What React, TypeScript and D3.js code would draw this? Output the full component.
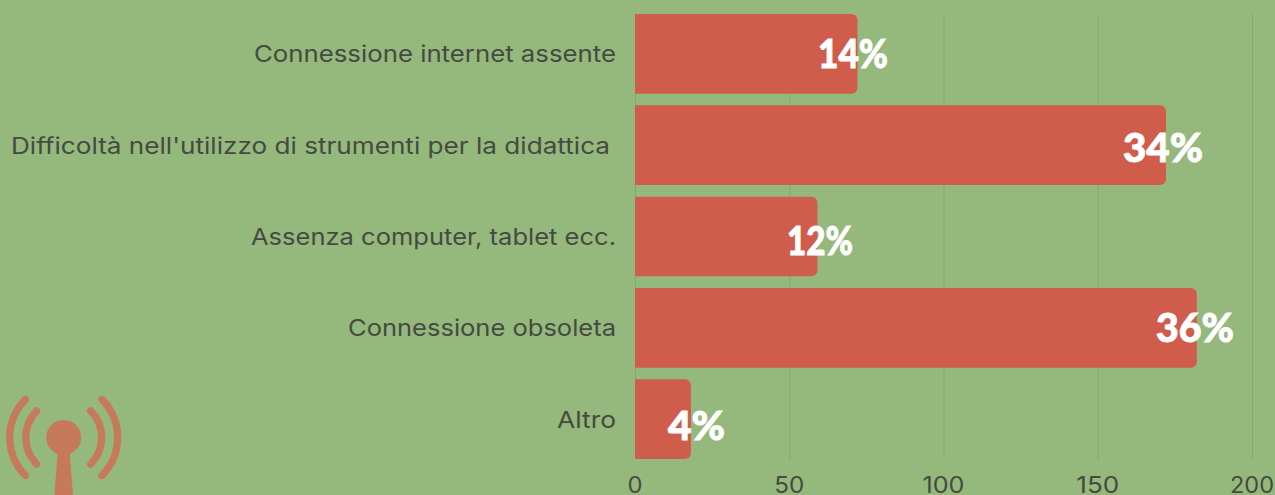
import React from "react";
import * as d3 from "d3";

const categories = [
  "Connessione internet assente",
  "Difficoltà nell'utilizzo di strumenti per la didattica",
  "Assenza computer, tablet ecc.",
  "Connessione obsoleta",
  "Altro",
];
const values = [72, 172, 59, 182, 18];
const percentLabels = ["14%", "34%", "12%", "36%", "4%"];
const ticks = [0, 50, 100, 150, 200];
const tickWidths = [15, 30, 42, 43, 44];
const labelRightEdge = [616, 610, 616, 616, 616];
const labelWidths = [362, 599, 365, 268, 59];
const pctCenters = [853, 1163, 820, 1195, 696.5];
const pctWidths = [70, 80, 66, 78, 57];
const pctBaselines = [68, 161.5, 255, 341.5, 440];

const BG = "#95B87C";
const BAR = "#D05C4C";
const ICON = "#C67A5B";
const TEXT = "#454A42";
const GRID = "#84A86F";

const x = d3.scaleLinear().domain([0, 200]).range([635, 1252]);
const y = d3.scaleBand<number>().domain(d3.range(categories.length)).range([14, 459]).paddingInner(0.127).paddingOuter(0);

function barPath(v: number, i: number) {
  const x0 = x(0), x1 = x(v) + 0.4, y0 = y(i)!, h = y.bandwidth(), r = 6;
  const p = d3.path();
  p.moveTo(x0, y0);
  p.lineTo(x1 - r, y0);
  p.arcTo(x1, y0, x1, y0 + r, r);
  p.lineTo(x1, y0 + h - r);
  p.arcTo(x1, y0 + h, x1 - r, y0 + h, r);
  p.lineTo(x0, y0 + h);
  p.closePath();
  return p.toString();
}

const arcGen = d3.arc<any>().cornerRadius(3.6);
const q = Math.PI / 4;
const iconArcs = [
  { r: 38, a: -3 * q - 0.09, b: -q + 0.09 },
  { r: 54, a: -3 * q - 0.065, b: -q + 0.065 },
  { r: 38, a: q - 0.09, b: 3 * q + 0.09 },
  { r: 54, a: q - 0.065, b: 3 * q + 0.065 },
];

export default function App() {
  return (
    <svg
      width={1275}
      height={495}
      style={{ position: "fixed", left: 0, top: 0, display: "block", background: BG }}
    >
      <rect x={0} y={0} width={1275} height={495} fill={BG} />
      {ticks.map((t) => (
        <line key={t} x1={x(t) + 0.5} x2={x(t) + 0.5} y1={14} y2={459} stroke={GRID} strokeWidth={1} />
      ))}
      {values.map((v, i) => (
        <path key={i} d={barPath(v, i)} fill={BAR} />
      ))}
      {categories.map((c, i) => (
        <text
          key={c}
          x={labelRightEdge[i] - labelWidths[i]}
          y={y(i)! + y.bandwidth() / 2 + 8.5}
          textLength={labelWidths[i]}
          lengthAdjust="spacingAndGlyphs"
          fontFamily="Inter, 'Open Sans', sans-serif"
          fontSize={22.5}
          fill={TEXT}
        >
          {c}
        </text>
      ))}
      {ticks.map((t, i) => (
        <text
          key={t}
          x={x(t) - tickWidths[i] / 2}
          y={493}
          textLength={tickWidths[i]}
          lengthAdjust="spacingAndGlyphs"
          fontFamily="Inter, 'Open Sans', sans-serif"
          fontSize={23}
          fill={TEXT}
        >
          {t}
        </text>
      ))}
      {values.map((v, i) => (
        <text
          key={i}
          x={pctCenters[i] - pctWidths[i] / 2}
          y={pctBaselines[i]}
          textLength={pctWidths[i]}
          lengthAdjust="spacingAndGlyphs"
          fontFamily="Lato, Inter, sans-serif"
          fontWeight={900}
          fontSize={40}
          fill="#fff"
          stroke="#fff"
          strokeWidth={0.9}
        >
          {percentLabels[i]}
        </text>
      ))}
      <g transform="translate(63.7,437.5)" fill={ICON}>
        {iconArcs.map((a, i) => (
          <path
            key={i}
            d={arcGen({ innerRadius: a.r - 3.65, outerRadius: a.r + 3.65, startAngle: a.a, endAngle: a.b }) as string}
          />
        ))}
        <circle r={17.5} />
        <path d="M-6,14 L6,14 L9.3,58 L-9.3,58 Z" />
      </g>
    </svg>
  );
}
